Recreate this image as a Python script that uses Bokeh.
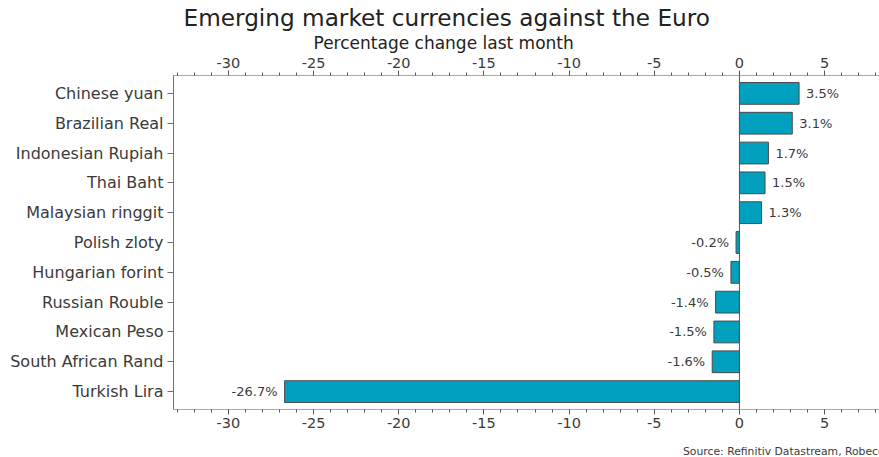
from bokeh.plotting import figure
from bokeh.layouts import column
from bokeh.models import (ColumnDataSource, FactorRange, Range1d, LinearAxis,
                          SingleIntervalTicker, Span, LabelSet, Title, Div,
                          PrintfTickFormatter)
from bokeh.core.properties import value
from bokeh.embed import file_html
from bokeh.resources import INLINE

currencies = ["Chinese yuan", "Brazilian Real", "Indonesian Rupiah", "Thai Baht",
              "Malaysian ringgit", "Polish zloty", "Hungarian forint",
              "Russian Rouble", "Mexican Peso", "South African Rand", "Turkish Lira"]
changes = [3.5, 3.1, 1.7, 1.5, 1.3, -0.2, -0.5, -1.4, -1.5, -1.6, -26.7]
title_text = "Emerging market currencies against the Euro"
subtitle_text = "Percentage change last month"
source_text = "Source: Refinitiv Datastream, Robeco"

FONT = "DejaVu Sans"
BAR = "#00A0BE"
TXT = "#3a3a3a"

labels = ["%.1f%%" % v for v in changes]
offsets = [7 if v >= 0 else -7 for v in changes]
aligns = ["left" if v >= 0 else "right" for v in changes]
src = ColumnDataSource(dict(cat=currencies, val=changes, lab=labels,
                            off=offsets, al=aligns))

p = figure(width=879, height=440, output_backend="svg", toolbar_location=None,
           y_range=FactorRange(factors=list(reversed(currencies)),
                               range_padding=0.1, range_padding_units="absolute"),
           x_range=Range1d(-33.22, 8.22), x_axis_location=None,
           min_border_left=173, min_border_right=0, min_border_top=74,
           min_border_bottom=31)
p.title.visible = False
p.outline_line_color = None
p.xgrid.visible = False
p.ygrid.visible = False
p.background_fill_color = "white"
p.border_fill_color = "white"

p.hbar(y="cat", right="val", left=0, height=0.73, source=src,
       fill_color=BAR, line_color="#4a4a4a", line_width=1)

p.add_layout(Span(location=0, dimension="height", line_color="#555555", line_width=1))

p.add_layout(LabelSet(x="val", y="cat", text="lab", x_offset="off", source=src,
                      text_align="al", text_baseline="middle",
                      text_font=value(FONT), text_font_size="13px", text_color=TXT))

for loc in ("above", "below"):
    ax = LinearAxis(ticker=SingleIntervalTicker(interval=5, num_minor_ticks=5),
                    formatter=PrintfTickFormatter(format="%d"))
    ax.axis_line_color = "#a8a8a8"
    ax.major_tick_line_color = "#555555"
    ax.minor_tick_line_color = "#555555"
    ax.major_tick_out = 5
    ax.major_tick_in = 0
    ax.minor_tick_out = 3
    ax.minor_tick_in = 0
    ax.major_label_text_font = FONT
    ax.major_label_text_font_size = "14.5px"
    ax.major_label_text_color = TXT
    ax.major_label_standoff = 3
    p.add_layout(ax, loc)

yax = p.yaxis[0]
yax.axis_line_color = "#707070"
yax.major_tick_line_color = "#707070"
yax.major_tick_out = 6
yax.major_tick_in = 0
yax.minor_tick_out = 0
yax.major_label_text_font = FONT
yax.major_label_text_font_size = "16px"
yax.major_label_text_color = TXT
yax.major_label_standoff = 4

p.add_layout(Title(text=subtitle_text, align="left", offset=140, standoff=0,
                   vertical_align="top",
                   text_font=FONT, text_font_size="17px", text_font_style="normal",
                   text_color="#222222"), "above")
p.add_layout(Title(text=title_text, align="left", offset=10, standoff=3,
                   text_font=FONT, text_font_size="23.2px", text_font_style="normal",
                   text_color="#222222"), "above")

source_div = Div(text=source_text, width=879, height=17, margin=0,
                 styles={"font-family": FONT, "font-size": "10.8px", "color": TXT,
                         "text-indent": "683px", "white-space": "nowrap",
                         "overflow": "hidden", "line-height": "24px",
                         "background-color": "white"})

layout = column(p, source_div, spacing=0)
open("out.html", "w").write(file_html(layout, INLINE))
